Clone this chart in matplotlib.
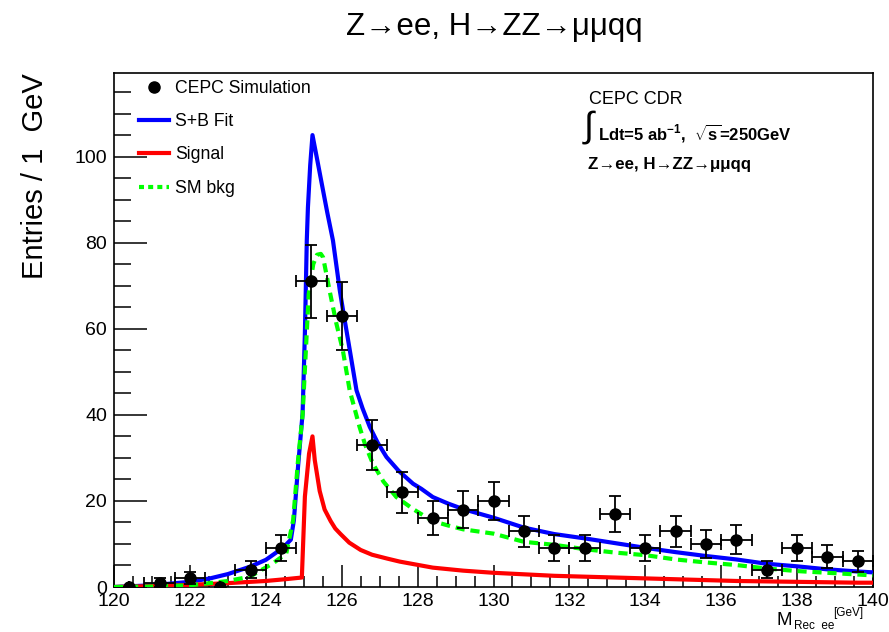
import numpy as np
import matplotlib
matplotlib.use("Agg")
import matplotlib.pyplot as plt
from matplotlib.ticker import MultipleLocator
from matplotlib.lines import Line2D

plt.rcParams['font.family'] = ['Liberation Sans', 'DejaVu Sans']
plt.rcParams['mathtext.fontset'] = 'custom'
plt.rcParams['mathtext.rm'] = 'Liberation Sans'
plt.rcParams['mathtext.bf'] = 'Liberation Sans:bold'
plt.rcParams['mathtext.it'] = 'Liberation Sans:italic'

# data points (0.8 GeV bins)
bin_centers = [120.4, 121.2, 122.0, 122.8, 123.6, 124.4, 125.2, 126.0, 126.8,
               127.6, 128.4, 129.2, 130.0, 130.8, 131.6, 132.4, 133.2, 134.0,
               134.8, 135.6, 136.4, 137.2, 138.0, 138.8, 139.6]
counts = [0, 1, 2, 0, 4, 9, 71, 63, 33, 22, 16, 18, 20, 13, 9, 9, 17, 9,
          13, 10, 11, 4, 9, 7, 6]
bin_halfwidth = 0.4

# S+B fit curve
sb_x = [120, 121, 122, 122.53, 123, 123.58, 124, 124.37, 124.55, 124.66, 124.74,
        124.85, 124.97, 125.03, 125.08, 125.11, 125.17, 125.23, 125.35, 125.49, 125.62,
        125.77, 125.95, 126.05, 126.17, 126.28, 126.39, 126.55, 126.74, 126.95, 127.18,
        127.5, 127.88, 128.1, 128.4, 128.8, 129.2, 130, 130.8, 131.6,
        132.4, 133.2, 134, 134.8, 135.6, 136.4, 137.2, 138, 138.8, 139.6, 140]
sb_y = [0, 0.4, 1.2, 2.0, 3.0, 4.7, 6.3, 8.6, 10, 11, 15.5,
        28, 40.4, 59, 80.5, 88.2, 98, 105, 99.5, 93, 87,
        80.5, 68.9, 63.5, 57.3, 51.5, 45.7, 41.5, 37.2, 33.5, 30.2,
        27, 24.0, 22.8, 20.9, 19.4, 18.1, 16.1, 13.8, 12.3,
        11.3, 10.2, 9.1, 8.1, 7.2, 6.4, 5.4, 4.8, 4.1, 3.6, 3.4]

# signal
sig_x = [120, 121, 122, 123, 124, 124.5, 124.95, 125.03, 125.14, 125.23, 125.29,
         125.42, 125.55, 125.71, 125.83, 125.97, 126.2, 126.5, 126.8, 127.2, 127.53,
         128.4, 129.2, 130, 131.6, 134, 136.4, 138, 139.6, 140]
sig_y = [0, 0.2, 0.5, 0.9, 1.4, 1.8, 2.2, 21, 31, 35, 29.5,
         22.3, 18, 15.3, 13.6, 12.3, 10.3, 8.6, 7.5, 6.6, 5.9,
         4.5, 3.8, 3.3, 2.6, 2.0, 1.4, 1.2, 1.0, 1.0]

# SM background
bkg_x = [120, 121, 122, 122.53, 123, 123.58, 124.19, 124.54, 124.72, 124.85, 124.97,
         125.05, 125.13, 125.25, 125.35, 125.45, 125.51, 125.68, 125.86, 126.03,
         126.21, 126.47, 126.62, 126.82, 127.1, 127.44, 127.9, 128.4, 128.8, 129.2,
         130, 130.8, 131.6, 132.4, 133.2, 134, 134.8, 135.6, 136.4, 137.2,
         138, 138.8, 139.6, 140]
bkg_y = [0, 0.1, 0.4, 0.9, 1.4, 2.4, 5.5, 7.8, 15.5, 29.5, 40,
         54, 68, 75, 77.2, 77.4, 76.6, 68.9, 61.2, 55,
         45.7, 37.2, 33, 28.7, 24.5, 20.9, 18, 15.3, 14.3, 13.4,
         12.4, 10.5, 9.8, 8.8, 8.0, 7.4, 6.4, 5.7, 5.1, 4.3,
         3.7, 3.3, 2.9, 2.7]

fig = plt.figure(figsize=(8.89, 6.32), dpi=100)
ax = fig.add_axes([114/889, 1-587/632, (873-114)/889, (587-72.7)/632])

ax.plot(sb_x, sb_y, color='#0000ff', lw=3, zorder=3)
ax.plot(sig_x, sig_y, color='#ff0000', lw=3, zorder=3)
ax.plot(bkg_x, bkg_y, color='#00ff00', lw=3, ls=(0, (2.2, 1.4)), zorder=4)

cnt = np.array(counts, dtype=float)
xe = np.where(cnt > 0, bin_halfwidth, 0)
ax.errorbar(bin_centers, cnt, yerr=np.sqrt(cnt), xerr=xe, fmt='o', color='black',
            ms=8, elinewidth=1.3, capsize=4, capthick=1.3, zorder=5)

ax.set_xlim(120, 140)
ax.set_ylim(0, 119.5)
ax.xaxis.set_major_locator(MultipleLocator(2))
ax.xaxis.set_minor_locator(MultipleLocator(0.5))
ax.yaxis.set_major_locator(MultipleLocator(20))
ax.yaxis.set_minor_locator(MultipleLocator(5))
ax.tick_params(axis='x', which='major', direction='in', length=16, width=1.1, labelsize=14, pad=4)
ax.tick_params(axis='x', which='minor', direction='in', length=8, width=1.1)
ax.tick_params(axis='y', which='major', direction='in', length=24, width=1.1, labelsize=14, pad=5)
ax.tick_params(axis='y', which='minor', direction='in', length=12, width=1.1)
for s in ax.spines.values():
    s.set_linewidth(1.2)

# axis labels
fig.text(35/889, 1-73/632, 'Entries / 1  GeV', rotation=90, ha='center', va='top', fontsize=21)
fig.text(777/889, 1-625/632, 'M', ha='left', va='baseline', fontsize=13.5)
fig.text(794/889, 1-629/632, 'Rec  ee', ha='left', va='baseline', fontsize=8.5)
fig.text(833/889, 1-616/632, '[GeV]', ha='left', va='baseline', fontsize=8.5)

# title
fig.text(494/889, 1-27/632, 'Z→ee, H→ZZ→μμqq', ha='center', va='center', fontsize=22.5)

# CEPC labels
fig.text(589/889, 1-99/632, 'CEPC CDR', ha='left', va='center', fontsize=13)
fig.text(584/889, 1-127/632, '∫', ha='left', va='center', fontsize=26)
fig.text(598/889, 1-133/632, r'Ldt=5 ab$^{\mathbf{-1}}$,  $\sqrt{\mathbf{s}}$=250GeV', ha='left',
         va='center', fontsize=12, fontweight='bold')
fig.text(588/889, 1-164/632, 'Z→ee, H→ZZ→μμqq', ha='left', va='center', fontsize=12.2,
         fontweight='bold')

# legend
handles = [
    Line2D([], [], ls='none', marker='o', color='black', ms=8),
    Line2D([], [], color='#0000ff', lw=3),
    Line2D([], [], color='#ff0000', lw=3),
    Line2D([], [], color='#00ff00', lw=3, ls=(0, (1.2, 1.0))),
]
labels = ['CEPC Simulation', 'S+B Fit', 'Signal', 'SM bkg']
fig.legend(handles, labels, loc='upper left', bbox_to_anchor=(139/889, 1-80/632),
           frameon=False, fontsize=12.7, handlelength=1.7, handletextpad=0.35,
           labelspacing=0.92, borderpad=0, borderaxespad=0)

fig.savefig('out.png', dpi=100)
